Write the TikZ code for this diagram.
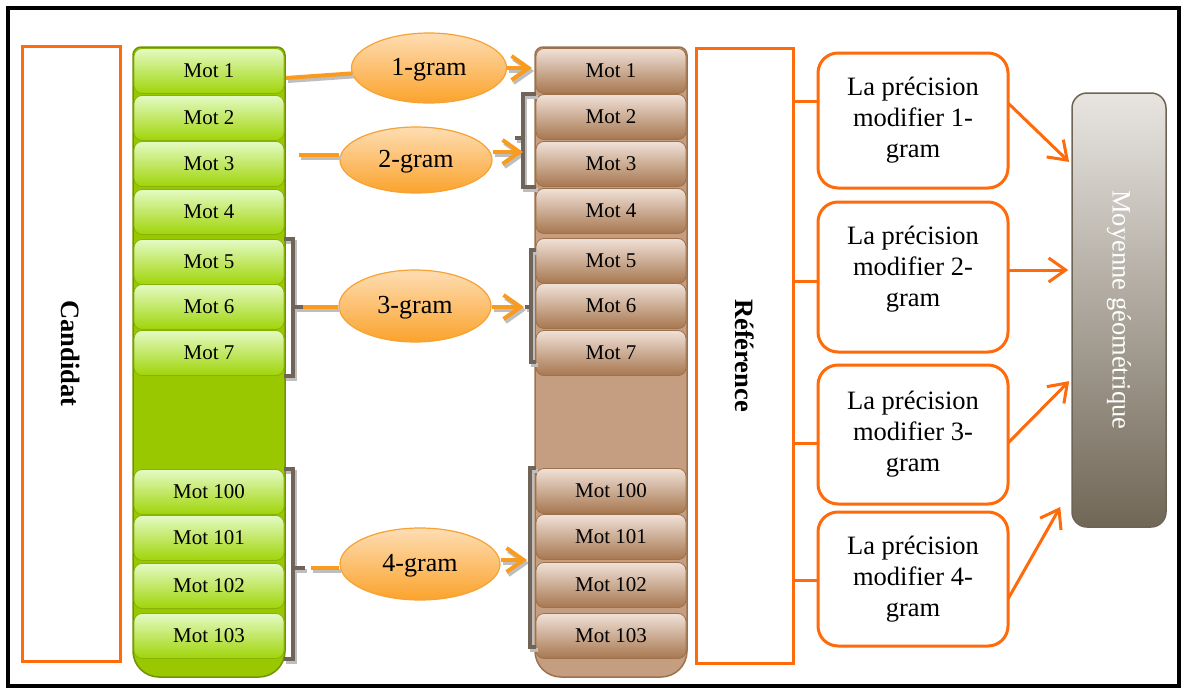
\documentclass[tikz,border=0pt]{standalone}
\usepackage{fontspec}
\setmainfont{Liberation Serif}
\usetikzlibrary{arrows.meta,calc,shapes.geometric}

\definecolor{frameorange}{HTML}{FF6A0A}
\definecolor{linkorange}{HTML}{F99B1E}
\definecolor{ovaltop}{HTML}{FEDDB3}
\definecolor{ovalbot}{HTML}{FBA32C}
\definecolor{ovalline}{HTML}{F6A234}
\definecolor{grtop}{HTML}{E4FBC4}
\definecolor{grbot}{HTML}{A0D408}
\definecolor{grfill}{HTML}{99C800}
\definecolor{grline}{HTML}{6E9400}
\definecolor{brtop}{HTML}{F0E1D8}
\definecolor{brbot}{HTML}{A7774F}
\definecolor{brfill}{HTML}{C59E81}
\definecolor{brline}{HTML}{9C714C}
\definecolor{bracketc}{HTML}{6F6457}
\definecolor{shadowc}{HTML}{BEBEBE}
\definecolor{meantop}{HTML}{E8E5E1}
\definecolor{meanmid}{HTML}{ADA69D}
\definecolor{meanbot}{HTML}{716757}
\definecolor{meanline}{HTML}{6E6455}

\tikzset{
  frame/.style={draw=black, line width=3.5pt},
  sidebox/.style={draw=frameorange, line width=3pt, outer sep=0pt},
  sidelabel/.style={font=\fontsize{26.5}{30}\selectfont\bfseries, rotate=-90},
  gcolumn/.style={fill=grfill, draw=grline, line width=1.5pt},
  bcolumn/.style={fill=brfill, draw=brline, line width=1.5pt},
  word/.style={rounded corners=8pt, line width=0.8pt, minimum width=150pt,
    minimum height=45pt, inner sep=0pt, font=\fontsize{21}{25}\selectfont},
  gword/.style={word, draw=grline!50!grbot, top color=grtop, bottom color=grbot},
  bword/.style={word, draw=brline, top color=brtop, bottom color=brbot},
  gram/.style={ellipse, draw=ovalline, line width=1.2pt, top color=ovaltop,
    bottom color=ovalbot, inner sep=0pt, text depth=2pt,
    font=\fontsize{26}{30}\selectfont},
  link/.style={draw=linkorange, line width=4pt},
  linktip/.style={link, -{Straight Barb[length=17pt,width=24pt]}},
  brace/.style={draw=bracketc, line width=4pt},
  shade link/.style={draw=shadowc, line width=4pt},
  shade linktip/.style={shade link, -{Straight Barb[length=17pt,width=24pt]}},
  shade brace/.style={draw=shadowc, line width=4pt},
  prec/.style={draw=frameorange, line width=3pt, rounded corners=20pt,
    minimum width=190pt, outer sep=0pt, align=center,
    font=\fontsize{26.5}{31}\selectfont},
  tick/.style={draw=frameorange, line width=3pt},
  precarrow/.style={draw=frameorange, line width=3pt,
    -{Straight Barb[length=17pt,width=24pt]}},
  mean/.style={draw=meanline, line width=1.5pt, rounded corners=15pt,
    top color=meantop, middle color=meanmid, bottom color=meanbot,
    minimum width=94pt, minimum height=434pt},
  meanlabel/.style={rotate=-90, text=white, font=\fontsize{26.5}{30}\selectfont}
}

% bracket paths, drawn once as a soft shadow and once in colour
\newcommand\bracepaths[1]{%
  \draw[#1] (g5.north east) -| (lb3) |- (g7.south east);
  \draw[#1] (lb3) -- (s3);
  \draw[#1] (g100.north east) -| (lb4) |- (g103.south east);
  \draw[#1] (lb4) -- ++(12,0);
  \draw[#1] (b2.north west) -| (rb2) |- (b3.south west);
  \draw[#1] (rb2) -- ++(-8,0);
  \draw[#1] (b5.west |- 0,250) -| (rb3) |- (b7.west |- 0,362);
  \draw[#1] (rb3) -- ++(-6,0);
  \draw[#1] (b100.west |- 0,468) -| (rb4) |- (b103.west |- 0,647);
}
% links from the candidate words through the n-gram ovals
\newcommand\linkpaths[2]{%
  \draw[#1] (s1) -- (e1);
  \draw[#1] (s2) -- (e2.west |- s2);
  \draw[#1] (s3) -- (e3.west |- s3);
  \draw[#1] (s4) -- (e4.west |- s4);
  \draw[#2] (e1.east |- a1) -- (a1);
  \draw[#2] (e2.east |- a2) -- (a2);
  \draw[#2] (e3.east |- a3) -- (a3);
  \draw[#2] (e4.east |- a4) -- (a4);
}

\begin{document}
\begin{tikzpicture}[x=1pt,y=-1pt]
\useasboundingbox (0,0) rectangle (1181,688);

% outer frame
\draw[frame] (8,8) rectangle (1179,686);

% side panels
\node[sidebox, minimum width=98pt, minimum height=615pt,
  label={[sidelabel]center:Candidat}] (cand) at (71,353.5) {};
\node[sidebox, minimum width=97pt, minimum height=615pt,
  label={[sidelabel]center:Référence}] (ref) at (744.5,355.5) {};

% word columns
\path[gcolumn] (133,400) [rounded corners=8pt] -- (133,47) -- (285,47) -- (285,400)
  [rounded corners=26pt] -- (285,677) -- (133,677) -- cycle;
\path[bcolumn] (535,400) [rounded corners=8pt] -- (535,47) -- (687,47) -- (687,400)
  [rounded corners=26pt] -- (687,677) -- (535,677) -- cycle;

\foreach \n/\y in {1/71,2/118,3/164,4/212,5/262,6/307,7/353,100/492,101/538,102/586,103/636}
  \node[gword] (g\n) at (209,\y) {Mot \n};
\foreach \n/\y in {1/71,2/117,3/164,4/211,5/261,6/306,7/353,100/491,101/537,102/585,103/636}
  \node[bword] (b\n) at (611,\y) {Mot \n};

% n-gram ovals
\node[gram, minimum width=155pt, minimum height=70pt] (e1) at (429,68) {1-gram};
\node[gram, minimum width=152pt, minimum height=66pt] (e2) at (416,160) {2-gram};
\node[gram, minimum width=152pt, minimum height=72pt] (e3) at (415,306) {3-gram};
\node[gram, minimum width=160pt, minimum height=72pt] (e4) at (420,564) {4-gram};

% bracket joints and link ends
\coordinate (lb3) at (293,307);
\coordinate (lb4) at (293,568);
\coordinate (rb2) at (523,138);
\coordinate (rb3) at (531,307);
\coordinate (rb4) at (530,560);
\coordinate (s1) at (286,78);
\coordinate (s2) at (299,155);
\coordinate (s3) at (303,307);
\coordinate (s4) at (311,568);
\coordinate (a1) at (532,68);
\coordinate (a2) at (523,152);
\coordinate (a3) at (524,307);
\coordinate (a4) at (527,560);

\begin{scope}[transform canvas={shift={(2pt,-3pt)}}]
  \bracepaths{shade brace}
  \linkpaths{shade link}{shade linktip}
\end{scope}
\bracepaths{brace}
\linkpaths{link}{linktip}

% modified precision boxes
\node[prec, minimum height=135pt] (p1) at (913,120.5) {La précision\\modifier 1-\\gram};
\node[prec, minimum height=150pt] (p2) at (913,277) {La précision\\modifier 2-\\gram\\[-9pt]};
\node[prec, minimum height=139pt] (p3) at (913,434.5) {La précision\\modifier 3-\\gram};
\node[prec, minimum height=134pt] (p4) at (913,579) {La précision\\modifier 4-\\gram};

\draw[tick] (ref.east |- 0,101) -- (p1.west |- 0,101);
\draw[tick] (ref.east |- 0,281) -- (p2.west |- 0,281);
\draw[tick] (ref.east |- 0,443) -- (p3.west |- 0,443);
\draw[tick] (ref.east |- 0,580) -- (p4.west |- 0,580);

% geometric mean
\node[mean, label={[meanlabel]center:Moyenne géométrique}] (mean) at (1119,310) {};

\draw[precarrow, shorten >=3pt] (p1.east |- 0,103) -- (mean.west |- 0,164);
\draw[precarrow, shorten >=3pt] (p2.east |- 0,270) -- (mean.west |- 0,270);
\draw[precarrow, shorten >=3pt] (p3.east |- 0,443) -- (mean.west |- 0,379);
\draw[precarrow] (p4.east |- 0,599) -- ($(mean.west |- 0,507)+(-11,0)$);

\end{tikzpicture}
\end{document}
